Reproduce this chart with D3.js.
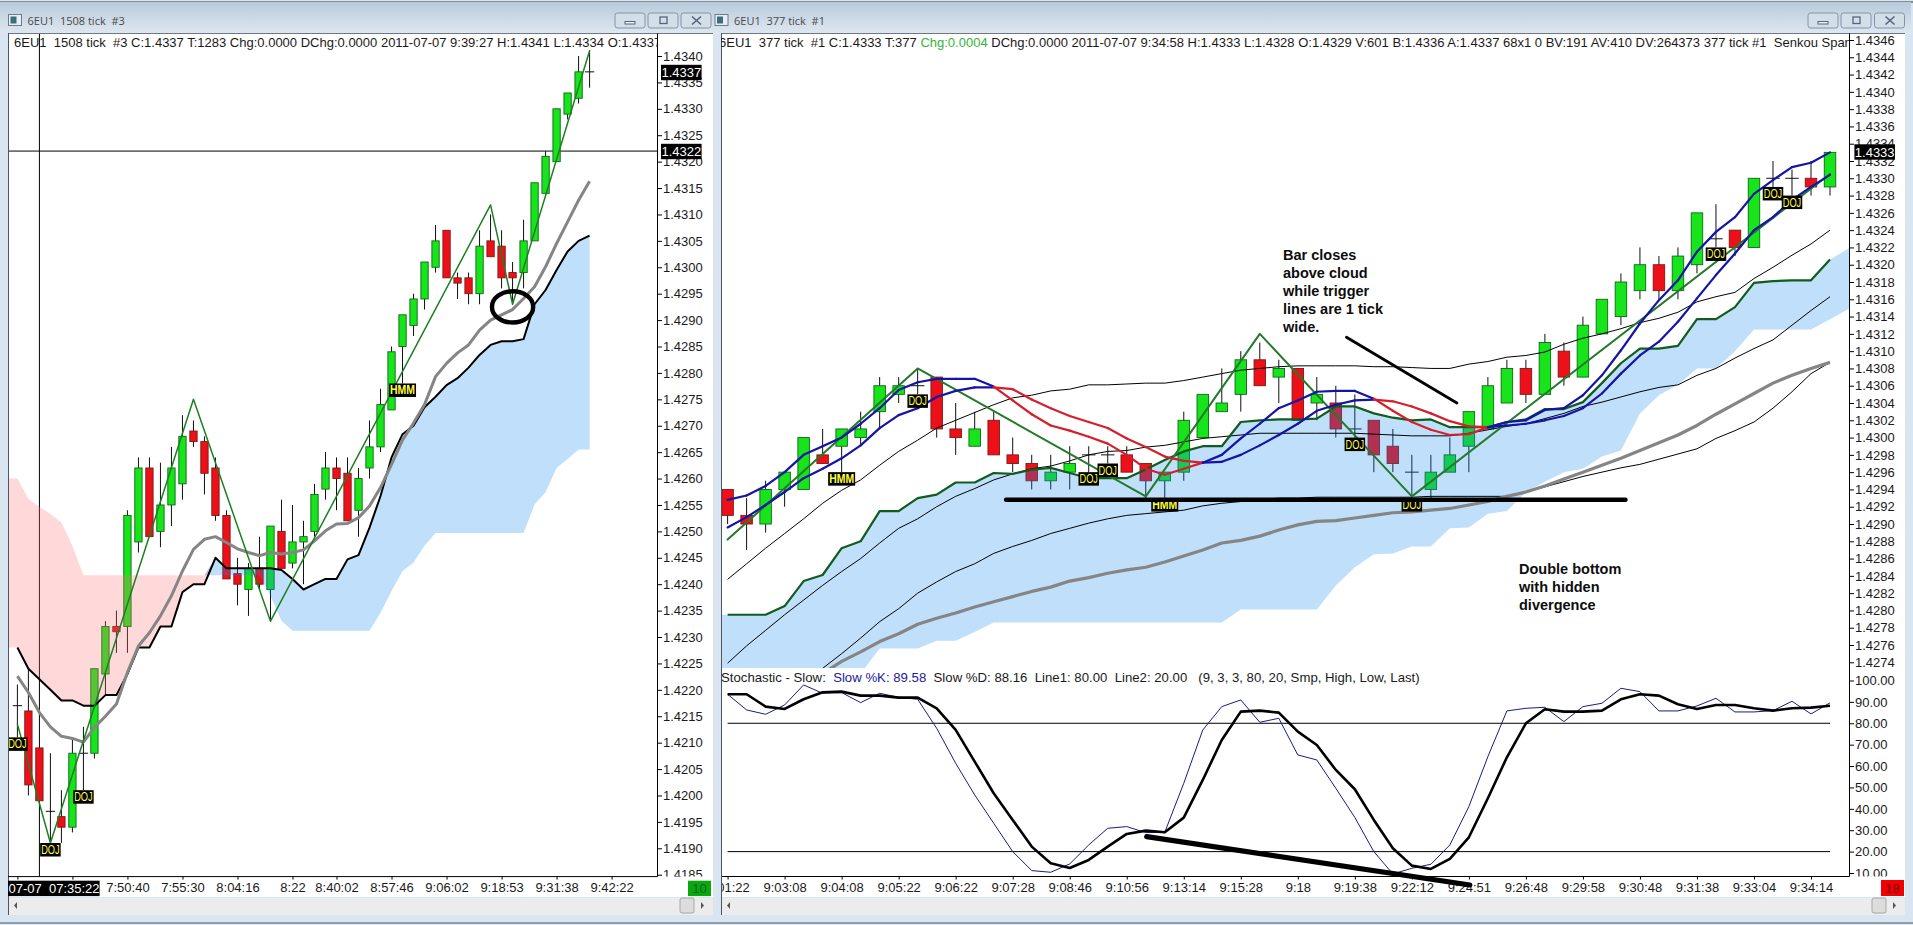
<!DOCTYPE html>
<html>
<head>
<meta charset="utf-8">
<title>6EU1 tick charts</title>
<script src="https://cdn.jsdelivr.net/npm/d3@7"></script>
<style>
  html, body { margin: 0; padding: 0; background: #d9e6f2; overflow: hidden; }
  svg { display: block; }
  text { font-family: "Liberation Sans", Arial, sans-serif; white-space: pre; }
  .axis text { font-size: 13px; fill: #1a1a1a; font-family: "Liberation Sans", Arial, sans-serif; }
  .axis line { stroke: #000; }
  .axis .domain { display: none; }
  .hdr { font-size: 13px; fill: #1a1a1a; }
  .title { font-size: 11px; fill: #4a4a4a; font-family: "Open Sans", sans-serif; }
  .note { font-size: 14.5px; font-weight: bold; fill: #0d0d0d; }
</style>
</head>
<body>
<div id="chart"></div>
<script>
;(function() {
  'use strict';

  // ---- 1508 tick pane (left) ----
  var leftOpen = [1.4217,1.4216,1.4209,1.4197,1.4196,1.4194,1.4208,1.4208,1.4223,1.4232,1.4232,1.4248,1.4262,1.4250,1.4255,1.4259,1.4269,1.4267,1.4262,1.4253,1.4242,1.4239,1.4243,1.4239,1.4250,1.4244,1.4248,1.4250,1.4258,1.4262,1.4261,1.4254,1.4262,1.4266,1.4273,1.4285,1.4289,1.4294,1.4300,1.4307,1.4298,1.4298,1.4295,1.4305,1.4304,1.4299,1.4299,1.4305,1.4314,1.4320,1.4329,1.4332,1.4337];
  var leftHigh = [1.4221,1.4224,1.4209,1.4208,1.4201,1.4211,1.4213,1.4224,1.4233,1.4235,1.4254,1.4264,1.4264,1.4263,1.4266,1.4272,1.4271,1.4268,1.4264,1.4254,1.4245,1.4244,1.4249,1.4251,1.4256,1.4255,1.4252,1.4259,1.4265,1.4264,1.4264,1.4262,1.4271,1.4277,1.4285,1.4291,1.4295,1.4301,1.4308,1.4307,1.4299,1.4299,1.4307,1.4310,1.4307,1.4301,1.4309,1.4316,1.4322,1.4330,1.4333,1.4340,1.4341];
  var leftLow = [1.4211,1.4200,1.4199,1.4191,1.4191,1.4193,1.4201,1.4207,1.4219,1.4227,1.4227,1.4246,1.4249,1.4247,1.4251,1.4256,1.4266,1.4257,1.4252,1.4241,1.4236,1.4234,1.4239,1.4233,1.4243,1.4243,1.4240,1.4249,1.4256,1.4254,1.4252,1.4249,1.4260,1.4265,1.4273,1.4278,1.4287,1.4292,1.4299,1.4298,1.4294,1.4293,1.4293,1.4302,1.4296,1.4293,1.4296,1.4305,1.4314,1.4320,1.4328,1.4331,1.4334];
  var leftClose = [1.4217,1.4202,1.4199,1.4197,1.4194,1.4208,1.4208,1.4224,1.4232,1.4231,1.4253,1.4262,1.4249,1.4255,1.4262,1.4268,1.4267,1.4261,1.4253,1.4241,1.4240,1.4243,1.4240,1.4251,1.4243,1.4248,1.4249,1.4257,1.4262,1.4260,1.4252,1.4260,1.4266,1.4274,1.4284,1.4291,1.4294,1.4301,1.4305,1.4298,1.4297,1.4295,1.4304,1.4302,1.4298,1.4298,1.4305,1.4316,1.4321,1.4330,1.4333,1.4337,1.4337];
  var leftSenkouA = [1.4228,1.4224,1.4222,1.4220,1.4218,1.4218,1.4217,1.4217,1.4219,1.4219,1.4223,1.4228,1.4228,1.4232,1.4232,1.42385,1.4240,1.4240,1.4245,1.4243,1.4243,1.4243,1.4243,1.4243,1.42427,1.4241,1.4239,1.4240,1.4241,1.4241,1.42447,1.42455,1.42507,1.42567,1.4264,1.42684,1.4270,1.42735,1.42755,1.42777,1.4279,1.4281,1.42834,1.42853,1.4286,1.4286,1.42864,1.4293,1.42957,1.42995,1.4303,1.4305,1.4306];
  var leftSenkouB = [1.4260,1.42562,1.42546,1.42533,1.42517,1.42473,1.42417,1.42417,1.42417,1.42417,1.42417,1.42417,1.42417,1.42417,1.42417,1.42417,1.42417,1.42417,1.42417,1.42417,1.42417,1.42417,1.42417,1.42378,1.42331,1.42312,1.42312,1.42312,1.42312,1.42312,1.42312,1.42312,1.42312,1.42346,1.42387,1.42425,1.42441,1.42473,1.42497,1.42497,1.42497,1.42497,1.42497,1.42497,1.42497,1.42497,1.42497,1.42551,1.42574,1.4262,1.42637,1.42655,1.42655];
  var leftGrayMa = [1.42226,1.42195,1.42157,1.4213,1.42112,1.42108,1.42101,1.42129,1.4215,1.42173,1.42233,1.42283,1.42308,1.4234,1.42378,1.42425,1.42466,1.42485,1.4249,1.42479,1.42467,1.4246,1.42454,1.4246,1.42457,1.4246,1.42465,1.42482,1.42501,1.42514,1.42515,1.42526,1.42548,1.42583,1.42627,1.42673,1.42705,1.4274,1.42793,1.42818,1.42838,1.42853,1.42881,1.429,1.4291,1.4292,1.42941,1.42963,1.43001,1.43045,1.43086,1.43127,1.43163];
  var leftZigIndex = [0, 3, 16, 23, 43, 45, 52];
  var leftZigPrice = [1.42135, 1.4191, 1.4275, 1.4233, 1.43118, 1.4293, 1.4341];
  var leftPatterns = [[0, 'DOJ'], [3, 'DOJ'], [6, 'DOJ'], [35, 'HMM']];
  var leftTimeTicks = [0, 5, 10, 15, 20, 25, 29, 34, 39, 44, 49, 54];
  var leftTimeLabels = ['', '', '7:50:40', '7:55:30', '8:04:16', '8:22', '8:40:02', '8:57:46', '9:06:02', '9:18:53', '9:31:38', '9:42:22'];
  var leftPriceTicks = [1.4340,1.4335,1.4330,1.4325,1.4320,1.4315,1.4310,1.4305,1.4300,1.4295,1.4290,1.4285,1.4280,1.4275,1.4270,1.4265,1.4260,1.4255,1.4250,1.4245,1.4240,1.4235,1.4230,1.4225,1.4220,1.4215,1.4210,1.4205,1.4200,1.4195,1.4190,1.4185];
  var leftCursor = [2, 1.4322];
  var leftCircle = [45, 1.42925];

  // ---- 377 tick pane (right) ----
  var rightOpen = [1.4294,1.4291,1.4290,1.4294,1.4294,1.4298,1.4299,1.4300,1.4303,1.4305,1.4306,1.4307,1.4301,1.4299,1.4302,1.4298,1.4297,1.4295,1.4296,1.4298,1.4298,1.4298,1.4297,1.4295,1.4296,1.4300,1.4303,1.4305,1.4309,1.4307,1.4308,1.4304,1.4304,1.4301,1.4302,1.4299,1.4296,1.4294,1.4296,1.4299,1.4301,1.4304,1.4308,1.4305,1.4310,1.4307,1.4312,1.4314,1.4317,1.4320,1.4317,1.4320,1.4323,1.4324,1.4322,1.4330,1.4330,1.4330,1.4329];
  var rightHigh = [1.4294,1.4293,1.4295,1.4296,1.4300,1.4301,1.4301,1.4303,1.4307,1.4307,1.4308,1.4307,1.4304,1.4303,1.4303,1.4300,1.4298,1.4298,1.4299,1.4299,1.4299,1.4299,1.4297,1.4296,1.4303,1.4305,1.4308,1.4310,1.4311,1.4309,1.4308,1.4307,1.4306,1.4305,1.4302,1.4301,1.4298,1.4298,1.4300,1.4303,1.4307,1.4309,1.4309,1.4312,1.4311,1.4314,1.4316,1.4319,1.4322,1.4321,1.4322,1.4326,1.4327,1.4324,1.4330,1.4332,1.4331,1.4332,1.4333];
  var rightLow = [1.4290,1.4287,1.4289,1.4292,1.4294,1.4297,1.4296,1.4299,1.4301,1.4304,1.4305,1.4300,1.4298,1.4299,1.4298,1.4296,1.4294,1.4294,1.4294,1.4296,1.4297,1.4296,1.4293,1.4293,1.4295,1.4300,1.4303,1.4303,1.4306,1.4304,1.4302,1.4302,1.4300,1.4300,1.4296,1.4296,1.4293,1.4293,1.4296,1.4296,1.4301,1.4304,1.4304,1.4305,1.4306,1.4307,1.4312,1.4313,1.4316,1.4316,1.4316,1.4319,1.4322,1.4321,1.4322,1.4329,1.4328,1.4328,1.4328];
  var rightClose = [1.4291,1.4290,1.4294,1.4296,1.4300,1.4297,1.4301,1.4301,1.4306,1.4306,1.4306,1.4301,1.4300,1.4301,1.4298,1.4297,1.4295,1.4296,1.4297,1.4298,1.4298,1.4296,1.4295,1.4296,1.4302,1.4305,1.4304,1.4309,1.4306,1.4308,1.4302,1.4305,1.4301,1.4301,1.4298,1.4297,1.4296,1.4296,1.4298,1.4303,1.4306,1.4308,1.4305,1.4311,1.4307,1.4313,1.4316,1.4318,1.4320,1.4317,1.4321,1.4326,1.4323,1.4322,1.4330,1.4330,1.4330,1.4329,1.4333];
  var rightSenkouA = [1.42795,1.42795,1.42795,1.42805,1.42834,1.42841,1.42872,1.42880,1.42915,1.42915,1.42930,1.42934,1.42948,1.42948,1.42959,1.42958,1.42963,1.42965,1.42959,1.42953,1.42953,1.42953,1.42963,1.42974,1.42984,1.42990,1.42990,1.43018,1.43020,1.43021,1.43021,1.43022,1.43036,1.43036,1.43028,1.43023,1.43020,1.43021,1.43012,1.43012,1.43012,1.43018,1.43021,1.43033,1.43033,1.43041,1.43063,1.43086,1.43103,1.43103,1.43106,1.43137,1.43137,1.43151,1.43179,1.43181,1.43182,1.43182,1.43206,1.43219];
  var rightSenkouB = [1.42720,1.42720,1.42720,1.42720,1.42720,1.42720,1.42720,1.42727,1.42756,1.42756,1.42756,1.42765,1.42765,1.42775,1.42786,1.42786,1.42786,1.42786,1.42786,1.42786,1.42786,1.42786,1.42786,1.42786,1.42786,1.42786,1.42786,1.42801,1.42801,1.42801,1.42801,1.42801,1.42829,1.42850,1.42865,1.42866,1.42874,1.42874,1.42895,1.42896,1.42912,1.42915,1.42937,1.42949,1.42960,1.42964,1.42978,1.42985,1.43028,1.43049,1.43061,1.43080,1.43080,1.43100,1.43125,1.43125,1.43125,1.43125,1.43137,1.43149];
  var rightFast = [1.42928,1.42933,1.42944,1.42960,1.42980,1.42990,1.43000,1.43016,1.43034,1.43055,1.43064,1.43068,1.43068,1.43068,1.43059,1.43043,1.43027,1.43014,1.43008,1.43001,1.42993,1.42980,1.42964,1.42957,1.42964,1.42971,1.42980,1.42999,1.43016,1.43034,1.43043,1.43053,1.43054,1.43054,1.43045,1.43031,1.43018,1.43009,1.43003,1.43004,1.43012,1.43018,1.43020,1.43032,1.43034,1.43049,1.43072,1.43101,1.43132,1.43159,1.43182,1.43215,1.43238,1.43255,1.43282,1.43298,1.43313,1.43318,1.43330];
  var rightSlow = [1.42896,1.42908,1.42922,1.42937,1.42953,1.42964,1.42976,1.42991,1.43011,1.43026,1.43034,1.43047,1.43054,1.43058,1.43058,1.43056,1.43044,1.43034,1.43025,1.43018,1.43011,1.42999,1.42989,1.42978,1.42973,1.42971,1.42972,1.42980,1.42991,1.43003,1.43016,1.43031,1.43038,1.43043,1.43044,1.43042,1.43036,1.43028,1.43019,1.43013,1.43012,1.43014,1.43016,1.43020,1.43025,1.43034,1.43051,1.43074,1.43095,1.43111,1.43134,1.43161,1.43188,1.43213,1.43240,1.43255,1.43275,1.43290,1.43304];
  var rightThinUpper = [1.42836,1.42854,1.42872,1.42889,1.42906,1.42924,1.42939,1.42951,1.42968,1.42984,1.42997,1.43011,1.43020,1.43029,1.43038,1.43046,1.43049,1.43054,1.43056,1.43061,1.43061,1.43062,1.43063,1.43063,1.43066,1.43070,1.43074,1.43078,1.43080,1.43082,1.43083,1.43083,1.43083,1.43083,1.43082,1.43082,1.43081,1.43080,1.43080,1.43085,1.43088,1.43093,1.43095,1.43099,1.43108,1.43115,1.43120,1.43126,1.43133,1.43138,1.43145,1.43157,1.43163,1.43168,1.43184,1.43197,1.43211,1.43224,1.43240];
  var rightThinMiddle = [1.42739,1.42759,1.42777,1.42795,1.42812,1.42829,1.42845,1.42860,1.42878,1.42895,1.42906,1.42920,1.42932,1.42941,1.42951,1.42958,1.42964,1.42967,1.42973,1.42980,1.42984,1.42985,1.42989,1.42991,1.42995,1.42999,1.43001,1.43003,1.43005,1.43005,1.43005,1.43005,1.43005,1.43005,1.43004,1.43003,1.43002,1.43002,1.43002,1.43005,1.43009,1.43013,1.43016,1.43022,1.43028,1.43036,1.43041,1.43047,1.43053,1.43058,1.43061,1.43072,1.43080,1.43092,1.43103,1.43113,1.43130,1.43147,1.43163];
  var rightThinLower = [null,null,null,null,null,1.42733,1.42750,1.42768,1.42787,1.42802,1.42820,1.42833,1.42845,1.42854,1.42866,1.42874,1.42881,1.42889,1.42895,1.42901,1.42906,1.42910,1.42912,1.42914,1.42916,1.42921,1.42924,1.42926,1.42928,1.42930,1.42930,1.42931,1.42931,1.42931,1.42931,1.42931,1.42931,1.42932,1.42932,1.42932,1.42932,1.42932,1.42937,1.42943,1.42949,1.42955,1.42960,1.42965,1.42969,1.42975,1.42981,1.42987,1.42999,1.43008,1.43018,1.43034,1.43053,1.43074,1.43087];
  var rightGrayMa = [null,null,null,null,null,1.42727,1.42741,1.42752,1.42764,1.42773,1.42784,1.42791,1.42797,1.42804,1.42810,1.42816,1.42822,1.42827,1.42834,1.42838,1.42843,1.42847,1.42850,1.42856,1.42863,1.42870,1.42878,1.42881,1.42886,1.42893,1.42899,1.42903,1.42904,1.42907,1.42910,1.42913,1.42914,1.42916,1.42918,1.42922,1.42926,1.42932,1.42937,1.42944,1.42952,1.42960,1.42968,1.42976,1.42985,1.42994,1.43003,1.43014,1.43027,1.43039,1.43051,1.43063,1.43072,1.43080,1.43087];
  var rightZigIndex = [0, 10, 22, 28, 36, 58];
  var rightZigPrice = [1.42882, 1.43080, 1.42932, 1.4312, 1.42932, 1.43305];
  var rightPatterns = [[6, 'HMM'], [10, 'DOJ'], [19, 'DOJ'], [20, 'DOJ'], [23, 'HMM'], [33, 'DOJ'], [36, 'DOJ'], [52, 'DOJ'], [55, 'DOJ'], [56, 'DOJ']];
  var rightTimeTicks = [0, 3, 6, 9, 12, 15, 18, 21, 24, 27, 30, 33, 36, 39, 42, 45, 48, 51, 54, 57];
  var rightTimeLabels = ['9:01:22', '9:03:08', '9:04:08', '9:05:22', '9:06:22', '9:07:28', '9:08:46', '9:10:56', '9:13:14', '9:15:28', '9:18', '9:19:38', '9:22:12', '9:24:51', '9:26:48', '9:29:58', '9:30:48', '9:31:38', '9:33:04', '9:34:14'];
  var rightPriceTicks = [1.4346,1.4344,1.4342,1.4340,1.4338,1.4336,1.4334,1.4332,1.4330,1.4328,1.4326,1.4324,1.4322,1.4320,1.4318,1.4316,1.4314,1.4312,1.4310,1.4308,1.4306,1.4304,1.4302,1.4300,1.4298,1.4296,1.4294,1.4292,1.4290,1.4288,1.4286,1.4284,1.4282,1.4280,1.4278,1.4276,1.4274];

  // Slow stochastic, same bars as the 377 tick pane.
  var stochK = [93.56,86.23,84.21,88.57,97.92,94.03,94.34,89.66,94.03,92.16,91.22,77.66,61.30,46.49,33.25,20.00,11.12,10.34,14.24,23.12,30.91,31.69,28.89,29.04,51.95,76.88,87.79,90.91,80.47,82.34,65.20,62.86,49.61,35.97,20.00,9.56,12.21,14.08,23.12,41.04,64.42,85.77,87.01,87.48,80.78,87.79,89.35,96.36,94.80,85.77,85.77,88.10,91.69,85.30,85.30,85.92,90.29,84.36,89.58];
  var stochD = [93.56,93.56,87.79,86.70,91.22,94.49,94.80,92.93,92.93,92.00,92.00,87.01,76.88,62.08,47.27,34.81,22.34,14.55,12.37,16.11,22.34,28.26,29.82,29.04,35.90,53.51,72.21,85.45,85.92,84.99,76.10,69.87,58.18,49.14,34.81,21.56,13.46,11.90,16.57,26.70,44.94,64.10,80.00,86.55,85.45,85.45,85.92,91.22,93.56,92.93,88.88,86.70,88.57,88.57,87.01,85.92,87.01,87.32,88.16];
  var stochLevels = [80, 20];
  var stochTicks = [100, 90, 80, 70, 60, 50, 40, 30, 20, 10];

  // Hand drawn marks: [bar index, price] (or stochastic value) pairs.
  var supportLine = [[14.65, 1.42928], [47.24, 1.42928]];
  var pointerLine = [[32.56, 1.43116], [38.37, 1.43040]];
  var divergenceLine = [[22.05, 27.0], [39.05, 4.4]];
  var noteCloud = ['Bar closes', 'above cloud', 'while trigger', 'lines are 1 tick', 'wide.'];
  var noteBottom = ['Double bottom', 'with hidden', 'divergence'];

  var width = 1913, height = 925;
  var GREEN = '#18e41c', RED = '#ee1018', UP_EDGE = '#0a6a12', DOWN_EDGE = '#7a1a14';

  var svg = d3.select('#chart').append('svg').attr('width', width).attr('height', height);
  var defs = svg.append('defs');

  var grad = defs.append('linearGradient').attr('id', 'titleBar')
      .attr('x1', 0).attr('x2', 0).attr('y1', 0).attr('y2', 1);
  grad.append('stop').attr('offset', 0).attr('stop-color', '#b9c9dc');
  grad.append('stop').attr('offset', 1).attr('stop-color', '#dfe8f1');

  function addClip(id, x, y, w, h) {
    defs.append('clipPath').attr('id', id).append('rect')
        .attr('x', x).attr('y', y).attr('width', w).attr('height', h);
  }

  /**
   * Window chrome: title bar, buttons, white client area and scroll bar.
   */
  function drawWindow(left, right, plotRight, title, titleX, btnX) {
    svg.append('rect').attr('x', left - 8).attr('y', 2).attr('width', right - left + 14).attr('height', 32)
        .attr('fill', 'url(#titleBar)');
    svg.append('rect').attr('x', left).attr('y', 33).attr('width', right - left).attr('height', 864)
        .attr('fill', '#fff');
    svg.append('line').attr('x1', left).attr('x2', right).attr('y1', 33.5).attr('y2', 33.5)
        .attr('stroke', '#6f7780');
    svg.append('text').attr('class', 'title').attr('x', titleX).attr('y', 25).text(title);
    svg.append('rect').attr('x', titleX - 19).attr('y', 14.5).attr('width', 13).attr('height', 11)
        .attr('fill', '#e8eef4').attr('stroke', '#6a7c8e');
    svg.append('rect').attr('x', titleX - 17).attr('y', 16.5).attr('width', 6).attr('height', 7)
        .attr('fill', '#3d6e78');

    btnX.forEach(function(bx) {
      svg.append('rect').attr('x', bx).attr('y', 13).attr('width', 30).attr('height', 15).attr('rx', 2.5)
          .attr('fill', '#d3dee9').attr('stroke', '#8494a6');
    });
    var cy = 20.5;
    svg.append('rect').attr('x', btnX[0] + 10).attr('y', cy + 1).attr('width', 10).attr('height', 2.5)
        .attr('fill', '#eef3f8').attr('stroke', '#55657a');
    svg.append('rect').attr('x', btnX[1] + 12).attr('y', cy - 3.5).attr('width', 7).attr('height', 6.5)
        .attr('fill', 'none').attr('stroke', '#55657a').attr('stroke-width', 1.3);
    svg.append('path').attr('d', 'M' + (btnX[2] + 11) + ',' + (cy - 4) + 'l9,8m0,-8l-9,8')
        .attr('stroke', '#55657a').attr('stroke-width', 1.6);

    // Scroll bar.
    svg.append('rect').attr('x', left).attr('y', 898).attr('width', right - left).attr('height', 17)
        .attr('fill', '#ececec');
    svg.append('rect').attr('x', right - 33).attr('y', 898).attr('width', 14).attr('height', 15).attr('rx', 2)
        .attr('fill', '#dcdcdc').attr('stroke', '#a8a8a8');
    svg.append('path').attr('d', 'M' + (right - 12) + ',902l3,3.5l-3,3.5z').attr('fill', '#555');
    svg.append('path').attr('d', 'M' + (left + 9) + ',902l-3,3.5l3,3.5z').attr('fill', '#555');
    svg.append('line').attr('x1', left + 0.5).attr('x2', left + 0.5).attr('y1', 33).attr('y2', 915)
        .attr('stroke', '#4d5660');
  }

  svg.append('rect').attr('width', width).attr('height', height).attr('fill', '#d9e6f2');
  svg.append('line').attr('x1', 0).attr('x2', width).attr('y1', 2).attr('y2', 2).attr('stroke', '#6a6f75').attr('stroke-width', 1.5);
  svg.append('line').attr('x1', 0).attr('x2', width).attr('y1', 923).attr('y2', 923).attr('stroke', '#4b545e').attr('stroke-width', 1.2);
  drawWindow(8, 713, 657.5, '6EU1  1508 tick  #3', 27.5, [615, 648, 681]);
  drawWindow(721, 1905, 1849.5, '6EU1  377 tick  #1', 734, [1808, 1841, 1874.5]);

  /**
   * Ohlc bars. Wicks and bodies are drawn straight from the price arrays.
   */
  function drawCandles(g, x, y, bw, open, high, low, close) {
    var bars = g.selectAll('.bar').data(d3.range(open.length)).enter().append('g').attr('class', 'bar');

    bars.append('line')
        .attr('x1', function(i) { return x(i); }).attr('x2', function(i) { return x(i); })
        .attr('y1', function(i) { return y(high[i]); }).attr('y2', function(i) { return y(low[i]); })
        .attr('stroke', '#111').attr('stroke-width', 1);

    bars.filter(function(i) { return open[i] === close[i]; }).append('line')
        .attr('x1', function(i) { return x(i) - bw / 2 - 1; }).attr('x2', function(i) { return x(i) + bw / 2 + 1; })
        .attr('y1', function(i) { return y(close[i]); }).attr('y2', function(i) { return y(close[i]); })
        .attr('stroke', '#111').attr('stroke-width', 1);

    bars.filter(function(i) { return open[i] !== close[i]; }).append('rect')
        .attr('x', function(i) { return x(i) - bw / 2; })
        .attr('width', bw)
        .attr('y', function(i) { return y(Math.max(open[i], close[i])); })
        .attr('height', function(i) { return Math.abs(y(open[i]) - y(close[i])); })
        .attr('fill', function(i) { return close[i] > open[i] ? GREEN : RED; })
        .attr('stroke', function(i) { return close[i] > open[i] ? UP_EDGE : DOWN_EDGE; })
        .attr('stroke-width', 0.9);
  }

  function drawSeries(g, x, y, values, color, lineWidth) {
    var line = d3.line()
        .defined(function(d) { return d !== null; })
        .x(function(d, i) { return x(i); })
        .y(function(d) { return y(d); });
    g.append('path').attr('d', line(values)).attr('fill', 'none')
        .attr('stroke', color).attr('stroke-width', lineWidth).attr('stroke-linejoin', 'round');
  }

  function drawPolyline(g, x, y, points, color, lineWidth) {
    var line = d3.line()
        .x(function(d) { return x(d[0]); })
        .y(function(d) { return y(d[1]); });
    g.append('path').attr('d', line(points)).attr('fill', 'none')
        .attr('stroke', color).attr('stroke-width', lineWidth)
        .attr('stroke-linecap', 'round').attr('stroke-linejoin', 'round');
  }

  /**
   * The Senkou cloud. Blue where A is above B and pink where B is above A.
   * Both fills are see through so bars below them change colour like in the platform.
   */
  function drawCloud(g, x, y, firstIndex, a, b) {
    var rows = a.map(function(d, i) { return {i: i + firstIndex, a: d, b: b[i]}; });
    var top = function(d) { return y(Math.max(d.a, d.b)); };
    var pink = d3.area().x(function(d) { return x(d.i); }).y0(function(d) { return y(d.a); }).y1(top);
    var blue = d3.area().x(function(d) { return x(d.i); }).y0(function(d) { return y(d.b); }).y1(top);
    g.append('path').attr('d', pink(rows)).attr('fill', 'rgb(255,115,115)').attr('fill-opacity', 0.27);
    g.append('path').attr('d', blue(rows)).attr('fill', 'rgb(18,137,240)').attr('fill-opacity', 0.27);
  }

  function drawPatterns(g, x, y, patterns, low) {
    patterns.forEach(function(p) {
      var hammer = p[1] === 'HMM';
      var w = hammer ? 27 : 20.5;
      var cx = x(p[0]), top = y(low[p[0]]);
      g.append('rect').attr('x', cx - w / 2).attr('y', top).attr('width', w).attr('height', 13.5).attr('fill', '#000');
      // The platform font is narrow, so squeeze the label into its box.
      g.append('text').attr('x', cx).attr('y', top + 11).attr('text-anchor', 'middle')
          .attr('font-size', 12).attr('font-weight', hammer ? 'bold' : 'normal')
          .attr('textLength', w - 2).attr('lengthAdjust', 'spacingAndGlyphs')
          .attr('fill', '#ffff3c').text(p[1]);
    });
  }

  function priceBox(x, y, label) {
    svg.append('rect').attr('x', x).attr('y', y - 7.7).attr('width', 40.6).attr('height', 15.4).attr('fill', '#000');
    svg.append('text').attr('x', x + 20.3).attr('y', y + 4.7).attr('text-anchor', 'middle')
        .attr('font-size', 13).attr('fill', '#fff').text(label);
  }

  function axisRight(scale, ticks, fmt, x, clipId) {
    svg.append('g').attr('class', 'axis')
        .attr('clip-path', 'url(#' + clipId + ')')
        .append('g')
        .attr('transform', 'translate(' + x + ',0)')
        .call(d3.axisRight(scale).tickValues(ticks).tickFormat(fmt).tickSize(4.5).tickPadding(1));
  }

  function axisBottom(scale, ticks, labels, y, clipId) {
    svg.append('g').attr('class', 'axis')
        .attr('clip-path', 'url(#' + clipId + ')')
        .append('g')
        .attr('transform', 'translate(0,' + y + ')')
        .call(d3.axisBottom(scale).tickValues(ticks)
          .tickFormat(function(d, i) { return labels[i]; }).tickSize(3).tickPadding(3.5));
  }

  function borders(x0, x1, y0, y1) {
    svg.append('path').attr('d', 'M' + x1 + ',' + y0 + 'V' + y1 + 'H' + x0)
        .attr('fill', 'none').attr('stroke', '#000').attr('stroke-width', 1);
  }

  // ---- left pane ----
  var xL = d3.scaleLinear().domain([0, 54]).range([17.4, 611.6]);
  var yL = d3.scaleLinear().domain([1.4340, 1.4190]).range([56, 848.3]);
  addClip('plotL', 9, 34, 648.5, 842.5);
  addClip('axisL', 657, 34, 56, 842.5);
  addClip('timeL', 8, 876, 650, 21);

  var left = svg.append('g').attr('clip-path', 'url(#plotL)');

  left.append('line').attr('x1', xL(leftCursor[0])).attr('x2', xL(leftCursor[0]))
      .attr('y1', 34).attr('y2', 876.5).attr('stroke', '#000');
  left.append('line').attr('x1', 8).attr('x2', 657.5)
      .attr('y1', yL(leftCursor[1])).attr('y2', yL(leftCursor[1])).attr('stroke', '#000');

  drawCandles(left, xL, yL, 7.3, leftOpen, leftHigh, leftLow, leftClose);
  // First cloud row repeats bar 0 so the fill reaches the pane edge.
  drawCloud(left, xL, yL, -1, [leftSenkouA[0]].concat(leftSenkouA), [leftSenkouB[0]].concat(leftSenkouB));
  drawSeries(left, xL, yL, leftSenkouA, '#000', 2);
  drawSeries(left, xL, yL, leftGrayMa, '#858585', 3);
  drawPolyline(left, xL, yL, leftZigIndex.map(function(d, i) { return [d, leftZigPrice[i]]; }), '#1c7f22', 1.5);
  drawPatterns(left, xL, yL, leftPatterns, leftLow);

  left.append('ellipse').attr('cx', xL(leftCircle[0])).attr('cy', yL(leftCircle[1]))
      .attr('rx', 20.6).attr('ry', 15.6).attr('fill', 'none').attr('stroke', '#000').attr('stroke-width', 4.4);

  addClip('headerL', 9, 34, 648, 20);
  svg.append('text').attr('class', 'hdr').attr('x', 14).attr('y', 46.5).attr('clip-path', 'url(#headerL)')
      .text('6EU1  1508 tick  #3 C:1.4337 T:1283 Chg:0.0000 DChg:0.0000 2011-07-07 9:39:27 H:1.4341 L:1.4334 O:1.4337');

  borders(8, 657.5, 33.5, 876.6);
  axisRight(yL, leftPriceTicks, d3.format('.4f'), 657.5, 'axisL');
  axisBottom(xL, leftTimeTicks, leftTimeLabels, 876.6, 'timeL');
  priceBox(661, 72.5, '1.4337');
  priceBox(661, 151.5, '1.4322');

  svg.append('rect').attr('x', 8).attr('y', 880.7).attr('width', 91.6).attr('height', 15.4).attr('fill', '#000');
  svg.append('text').attr('x', 54).attr('y', 892.8).attr('text-anchor', 'middle')
      .attr('font-size', 13).attr('fill', '#fff').text('07-07  07:35:22');
  svg.append('rect').attr('x', 688).attr('y', 880.7).attr('width', 23).attr('height', 15.4).attr('fill', '#0aa80a');
  svg.append('text').attr('x', 699.5).attr('y', 892.8).attr('text-anchor', 'middle')
      .attr('font-size', 13).attr('fill', '#063').text('10');

  // ---- right pane ----
  var xR = d3.scaleLinear().domain([0, 57]).range([727.6, 1811]);
  var yR = d3.scaleLinear().domain([1.4346, 1.4274]).range([40, 662.3]);
  var yS = d3.scaleLinear().domain([100, 10]).range([680.5, 873]);
  addClip('plotR', 722, 34, 1127.5, 634);
  addClip('axisR', 1849, 30, 56, 846.5);
  addClip('timeR', 722, 876, 1128, 21);
  addClip('headerR', 721, 34, 1128, 20);
  addClip('stochR', 722, 668, 1127.5, 208.5);

  var right = svg.append('g').attr('clip-path', 'url(#plotR)');

  drawCandles(right, xR, yR, 11.5, rightOpen, rightHigh, rightLow, rightClose);
  drawCloud(right, xR, yR, -1, [rightSenkouA[0]].concat(rightSenkouA), [rightSenkouB[0]].concat(rightSenkouB));

  drawSeries(right, xR, yR, rightThinUpper, '#000', 1);
  drawSeries(right, xR, yR, rightThinMiddle, '#000', 1);
  drawSeries(right, xR, yR, rightThinLower, '#000', 1);
  drawSeries(right, xR, yR, rightGrayMa, '#858585', 3.2);
  drawSeries(right, xR, yR, rightSenkouA.slice(0, 59), '#0f5c1c', 2.2);
  drawPolyline(right, xR, yR, rightZigIndex.map(function(d, i) { return [d, rightZigPrice[i]]; }), '#247a2a', 2);

  // Trigger lines turn red for the segments where fast is below slow.
  d3.range(rightFast.length - 1).forEach(function(i) {
    var below = rightFast[i] < rightSlow[i] || rightFast[i + 1] < rightSlow[i + 1];
    var color = below ? '#d4202c' : '#1414a6';
    drawPolyline(right, xR, yR, [[i, rightFast[i]], [i + 1, rightFast[i + 1]]], color, 2.2);
    drawPolyline(right, xR, yR, [[i, rightSlow[i]], [i + 1, rightSlow[i + 1]]], color, 2.2);
  });

  drawPatterns(right, xR, yR, rightPatterns, rightLow);
  drawPolyline(right, xR, yR, supportLine, '#000', 4.4);
  drawPolyline(right, xR, yR, pointerLine, '#000', 2.8);

  var hdr = svg.append('text').attr('class', 'hdr').attr('x', 719).attr('y', 46.5).attr('clip-path', 'url(#headerR)');
  hdr.append('tspan').text('6EU1  377 tick  #1 C:1.4333 T:377 ');
  hdr.append('tspan').attr('fill', '#34b534').text('Chg:0.0004');
  hdr.append('tspan').text(' DChg:0.0000 2011-07-07 9:34:58 H:1.4333 L:1.4328 O:1.4329 V:601 B:1.4336 A:1.4337 68x1 0 BV:191 AV:410 DV:264373 377 tick #1  Senkou Span');

  noteCloud.forEach(function(t, i) {
    svg.append('text').attr('class', 'note').attr('x', 1283).attr('y', 260 + i * 18).text(t);
  });
  noteBottom.forEach(function(t, i) {
    svg.append('text').attr('class', 'note').attr('x', 1519).attr('y', 574 + i * 18).text(t);
  });

  // Stochastic sub pane.
  var stoch = svg.append('g').attr('clip-path', 'url(#stochR)');
  stochLevels.forEach(function(v) {
    stoch.append('line').attr('x1', xR(0)).attr('x2', xR(58))
        .attr('y1', yS(v)).attr('y2', yS(v)).attr('stroke', '#000');
  });
  drawSeries(stoch, xR, yS, stochK, '#1a1a86', 1);
  drawSeries(stoch, xR, yS, stochD, '#000', 2.6);

  var stHdr = svg.append('text').attr('class', 'hdr').attr('x', 721).attr('y', 681.8).style('font-size', '13.2px');
  stHdr.append('tspan').text('Stochastic - Slow:  ');
  stHdr.append('tspan').attr('fill', '#22229a').text('Slow %K: 89.58');
  stHdr.append('tspan').text('  Slow %D: 88.16  Line1: 80.00  Line2: 20.00   (9, 3, 3, 80, 20, Smp, High, Low, Last)');

  borders(722, 1849.5, 33.5, 876.5);
  axisRight(yR, rightPriceTicks, d3.format('.4f'), 1849.5, 'axisR');
  axisRight(yS, stochTicks, d3.format('.2f'), 1849.5, 'axisR');
  axisBottom(xR, rightTimeTicks, rightTimeLabels, 876.5, 'timeR');
  priceBox(1854.4, 152, '1.4333');

  svg.append('rect').attr('x', 1881).attr('y', 880).attr('width', 23).attr('height', 16).attr('fill', '#f00000');
  svg.append('text').attr('x', 1892.5).attr('y', 892.8).attr('text-anchor', 'middle')
      .attr('font-size', 13).attr('fill', '#700').text('18');

  // The divergence line runs past the pane bottom, so it goes on top of the axis.
  drawPolyline(svg, xR, yS, divergenceLine, '#000', 5.2);
}());
</script>
</body>
</html>
